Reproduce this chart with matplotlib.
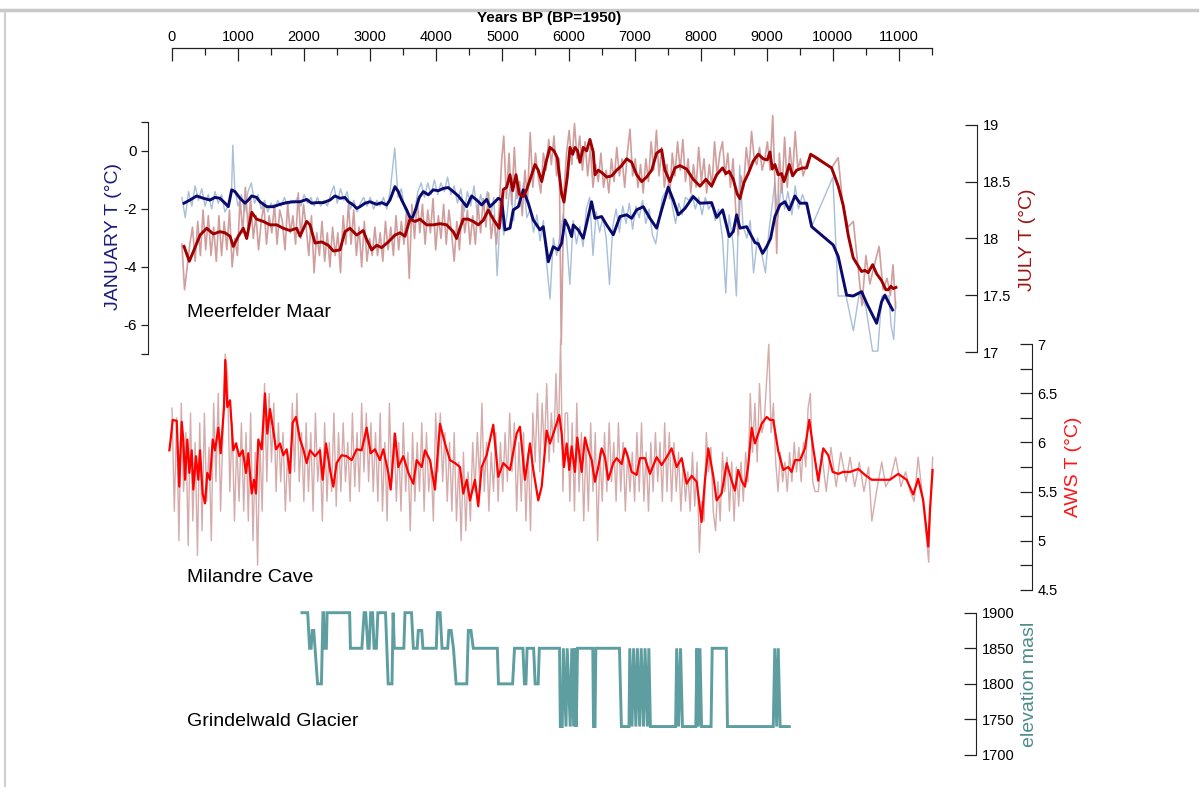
import numpy as np
import matplotlib
matplotlib.use("Agg")
import matplotlib.pyplot as plt
from matplotlib import font_manager
from matplotlib.ticker import FixedLocator, MultipleLocator, FormatStrFormatter
from matplotlib.lines import Line2D

plt.rcParams['font.family'] = ['Liberation Sans', 'DejaVu Sans']
plt.rcParams['axes.unicode_minus'] = False

# ---------------- Meerfelder Maar: January temperature ----------------
jan_smooth_years = [182, 272, 373, 474, 575, 651, 726, 802, 852, 903, 953, 1029, 1105, 1155, 1206,
                    1281, 1331, 1433, 1533, 1634, 1735, 1836, 1937, 2038, 2113, 2189, 2290, 2391,
                    2466, 2542, 2617, 2668, 2743, 2794, 2844, 2920, 2996, 3097, 3172, 3248, 3298,
                    3374, 3424, 3475, 3551, 3601, 3641, 3692, 3742, 3803, 3878, 3954, 4029, 4105,
                    4180, 4256, 4332, 4459, 4534, 4610, 4686, 4761, 4811, 4887, 4937, 4988, 5038,
                    5114, 5164, 5240, 5315, 5391, 5467, 5568, 5618, 5694, 5769, 5845, 5896, 5946,
                    5996, 6047, 6071, 6147, 6223, 6298, 6349, 6400, 6501, 6577, 6677, 6778, 6880,
                    6955, 7031, 7131, 7232, 7333, 7409, 7509, 7585, 7661, 7762, 7887, 7989, 8165,
                    8241, 8332, 8432, 8493, 8544, 8594, 8695, 8821, 8871, 8937, 8998, 9058, 9123,
                    9199, 9275, 9340, 9426, 9502, 9603, 9679, 10005, 10081, 10208, 10308, 10435,
                    10511, 10662, 10737, 10787, 10838, 10904]
jan_smooth = [-1.80, -1.69, -1.55, -1.63, -1.69, -1.60, -1.63, -1.80, -1.92, -1.34, -1.40, -1.63,
              -1.80, -1.69, -1.55, -1.60, -1.75, -1.92, -1.92, -1.84, -1.78, -1.75, -1.75, -1.67,
              -1.80, -1.78, -1.78, -1.69, -1.55, -1.63, -1.60, -1.75, -1.86, -1.98, -1.92, -1.80,
              -1.75, -1.84, -1.78, -1.86, -1.69, -1.23, -1.40, -1.69, -2.03, -2.29, -2.29, -1.98,
              -1.60, -1.40, -1.51, -1.34, -1.37, -1.29, -1.26, -1.40, -1.55, -1.92, -1.55, -1.69,
              -1.86, -1.67, -1.92, -1.75, -1.63, -1.69, -2.72, -2.66, -2.03, -1.92, -1.34, -1.80,
              -2.38, -2.72, -2.61, -3.82, -3.30, -3.41, -3.18, -2.38, -2.61, -2.95, -2.55, -2.72,
              -3.01, -2.26, -1.75, -2.32, -2.26, -2.55, -2.89, -2.26, -2.20, -2.32, -2.03, -1.92,
              -2.32, -2.66, -2.03, -1.25, -1.69, -2.20, -1.98, -1.57, -1.80, -1.78, -2.29, -2.03,
              -2.95, -2.78, -2.20, -2.66, -2.61, -3.16, -3.20, -3.53, -3.30, -3.01, -2.26, -1.86,
              -1.75, -2.03, -1.55, -1.80, -1.80, -2.61, -3.24, -3.64, -4.97, -5.00, -4.85, -5.25,
              -5.94, -5.20, -4.97, -5.20, -5.48]

jan_raw_years = [150, 200, 250, 300, 350, 400, 450, 500, 550, 600, 650, 700, 750, 800, 850, 900, 920,
                 950, 1000, 1050, 1100, 1150, 1200, 1250, 1300, 1350, 1400, 1450, 1500, 1550, 1600,
                 1650, 1700, 1750, 1800, 1850, 1900, 1950, 2000, 2050, 2100, 2150, 2200, 2250, 2300,
                 2350, 2400, 2450, 2500, 2550, 2600, 2650, 2700, 2750, 2800, 2850, 2900, 2950, 3000,
                 3050, 3100, 3150, 3200, 3250, 3300, 3370, 3420, 3470, 3520, 3570, 3620, 3670, 3720,
                 3770, 3820, 3870, 3920, 3970, 4020, 4070, 4120, 4170, 4220, 4270, 4320, 4370, 4420,
                 4470, 4520, 4570, 4620, 4670, 4720, 4770, 4820, 4870, 4920, 4970, 5020, 5070, 5120,
                 5170, 5220, 5270, 5320, 5370, 5420, 5470, 5520, 5570, 5620, 5670, 5720, 5770, 5820,
                 5870, 5920, 5970, 6020, 6070, 6120, 6170, 6220, 6270, 6320, 6370, 6420, 6470, 6520,
                 6570, 6620, 6670, 6720, 6770, 6820, 6870, 6920, 6970, 7020, 7070, 7120, 7170, 7220,
                 7270, 7320, 7370, 7420, 7470, 7520, 7570, 7620, 7670, 7720, 7770, 7820, 7870, 7920,
                 7970, 8020, 8070, 8120, 8170, 8220, 8270, 8330, 8380, 8430, 8490, 8540, 8590, 8640,
                 8700, 8750, 8800, 8860, 8920, 8980, 9030, 9080, 9120, 9170, 9220, 9270, 9320, 9380,
                 9430, 9480, 9540, 9600, 9680, 10000, 10080, 10200, 10310, 10400, 10500, 10600, 10680,
                 10740, 10800, 10850, 10880, 10920, 10950]
jan_raw = [-1.6, -2.3, -1.4, -1.9, -1.2, -1.7, -1.3, -1.9, -1.5, -2.0, -1.4, -1.8, -1.5, -2.1, -1.9,
           -1.5, 0.2, -1.3, -1.9, -1.5, -2.1, -1.4, -1.1, -1.8, -1.5, -2.0, -1.7, -2.1, -1.8, -2.0,
           -1.7, -1.9, -1.6, -1.9, -1.7, -1.8, -1.6, -1.9, -1.5, -1.8, -1.6, -1.9, -1.6, -1.9, -1.7,
           -1.9, -1.5, -1.2, -1.8, -1.3, -1.7, -1.4, -2.0, -1.7, -2.1, -1.8, -1.6, -1.9, -1.6, -2.0,
           -1.7, -1.9, -1.6, -2.0, -1.4, 0.1, -1.6, -1.3, -2.0, -2.2, -2.5, -2.1, -1.4, -1.1, -1.6,
           -1.1, -1.5, -1.0, -1.5, -1.1, -1.4, -0.9, -1.5, -1.2, -1.8, -1.3, -2.1, -1.4, -1.9, -1.2,
           -2.2, -1.5, -2.0, -1.4, -2.3, -1.6, -4.3, -2.0, -2.9, -2.2, -1.1, -2.4, -1.0, -1.9, -1.1,
           -2.3, -2.0, -2.8, -2.2, -3.1, -2.4, -3.9, -5.1, -3.0, -3.6, -2.9, -2.2, -3.0, -4.6, -2.4,
           -3.2, -2.6, -3.3, -2.0, -1.6, -3.6, -2.1, -2.8, -2.3, -3.0, -4.6, -2.6, -2.0, -2.8, -1.9,
           -2.5, -1.8, -2.7, -1.9, -2.3, -1.7, -2.5, -2.0, -2.9, -3.2, -2.4, -1.6, -1.4, -1.1, -1.9,
           -2.5, -1.8, -2.2, -1.6, -1.7, -1.5, -2.0, -1.6, -2.2, -1.6, -2.0, -1.8, -2.4, -2.0, -3.0,
           -4.9, -2.2, -3.2, -5.0, -0.5, -2.6, -3.0, -2.4, -4.2, -3.0, -3.5, -4.2, -2.8, -1.9, -1.1,
           -2.3, -1.1, -2.0, -1.4, -2.2, -1.2, -2.0, -1.5, -1.9, -2.6, -0.9, -5.0, -5.0, -6.2, -4.9,
           -5.4, -6.9, -6.9, -5.0, -5.0, -5.0, -6.0, -6.5, -5.2]

# ---------------- Meerfelder Maar: July temperature ----------------
jul_smooth_years = [182, 262, 348, 424, 525, 625, 726, 802, 878, 927, 1003, 1079, 1130, 1206, 1281,
                    1381, 1483, 1584, 1684, 1785, 1887, 1937, 2038, 2088, 2164, 2265, 2365, 2441,
                    2542, 2617, 2693, 2794, 2894, 2946, 3021, 3097, 3172, 3273, 3374, 3450, 3525,
                    3601, 3677, 3752, 3853, 3954, 4055, 4156, 4256, 4307, 4357, 4407, 4479, 4559,
                    4634, 4710, 4786, 4861, 4952, 5013, 5064, 5114, 5155, 5205, 5255, 5315, 5367,
                    5442, 5492, 5542, 5594, 5659, 5719, 5780, 5830, 5896, 5931, 5981, 6022, 6063,
                    6097, 6138, 6173, 6223, 6274, 6324, 6374, 6400, 6450, 6501, 6577, 6653, 6728,
                    6804, 6880, 6955, 7031, 7107, 7182, 7258, 7333, 7409, 7459, 7535, 7610, 7686,
                    7787, 7887, 7989, 8079, 8165, 8241, 8332, 8382, 8432, 8493, 8553, 8594, 8654,
                    8719, 8795, 8871, 8947, 9007, 9048, 9083, 9123, 9173, 9225, 9260, 9300, 9340,
                    9391, 9451, 9543, 9603, 9664, 9981, 10081, 10157, 10232, 10308, 10435, 10485,
                    10535, 10602, 10662, 10737, 10802, 10838, 10878, 10913, 10954]
jul_smooth = [17.93, 17.80, 17.92, 18.03, 18.09, 18.04, 18.06, 18.05, 18.02, 17.93, 18.02, 18.09,
              18.00, 18.23, 18.17, 18.15, 18.12, 18.12, 18.09, 18.07, 18.09, 18.02, 18.15, 18.12,
              17.96, 17.97, 17.94, 17.89, 17.90, 18.06, 18.09, 18.03, 18.07, 17.99, 17.90, 17.94,
              17.92, 17.97, 18.03, 18.05, 18.02, 18.17, 18.15, 18.17, 18.12, 18.12, 18.13, 18.12,
              18.06, 18.00, 18.09, 18.17, 18.17, 18.15, 18.12, 18.16, 18.25, 18.17, 18.09, 18.43,
              18.45, 18.56, 18.42, 18.56, 18.39, 18.37, 18.43, 18.56, 18.65, 18.60, 18.50, 18.67,
              18.80, 18.77, 18.71, 18.39, 18.32, 18.54, 18.80, 18.74, 18.80, 18.77, 18.67, 18.80,
              18.77, 18.87, 18.76, 18.56, 18.60, 18.58, 18.54, 18.55, 18.60, 18.64, 18.70, 18.67,
              18.56, 18.50, 18.54, 18.60, 18.75, 18.78, 18.60, 18.50, 18.62, 18.64, 18.61, 18.52,
              18.46, 18.52, 18.46, 18.56, 18.62, 18.57, 18.59, 18.52, 18.39, 18.35, 18.49, 18.57,
              18.68, 18.74, 18.70, 18.69, 18.76, 18.61, 18.65, 18.56, 18.57, 18.50, 18.57, 18.65,
              18.55, 18.60, 18.62, 18.62, 18.74, 18.62, 18.46, 18.29, 18.03, 17.83, 17.71, 17.72,
              17.70, 17.77, 17.69, 17.63, 17.55, 17.55, 17.58, 17.56, 17.57]

jul_raw_years = [150, 190, 230, 270, 310, 350, 390, 430, 470, 510, 550, 590, 630, 670, 710, 750,
                 790, 830, 870, 910, 950, 990, 1030, 1070, 1110, 1150, 1190, 1230, 1270, 1310,
                 1350, 1390, 1430, 1470, 1510, 1550, 1590, 1630, 1670, 1710, 1750, 1790, 1830,
                 1870, 1910, 1950, 1990, 2030, 2070, 2110, 2150, 2190, 2230, 2270, 2310, 2350,
                 2390, 2430, 2470, 2510, 2550, 2590, 2630, 2670, 2710, 2750, 2790, 2830, 2870,
                 2910, 2950, 2990, 3030, 3070, 3110, 3150, 3190, 3230, 3270, 3310, 3350, 3390,
                 3430, 3470, 3510, 3550, 3590, 3630, 3670, 3710, 3750, 3790, 3830, 3870, 3910,
                 3950, 3990, 4030, 4070, 4110, 4150, 4190, 4230, 4270, 4310, 4350, 4390, 4430,
                 4470, 4510, 4550, 4590, 4630, 4670, 4710, 4750, 4790, 4830, 4870, 4910, 4950,
                 4990, 5020, 5060, 5100, 5140, 5180, 5220, 5260, 5300, 5340, 5380, 5420, 5460,
                 5500, 5540, 5580, 5620, 5660, 5700, 5740, 5780, 5820, 5860, 5890, 5930, 5970,
                 6010, 6050, 6090, 6130, 6170, 6210, 6250, 6290, 6330, 6370, 6410, 6450, 6490,
                 6530, 6570, 6610, 6650, 6690, 6730, 6770, 6810, 6850, 6890, 6930, 6970, 7010,
                 7050, 7090, 7130, 7170, 7210, 7250, 7290, 7330, 7370, 7410, 7450, 7490, 7530,
                 7570, 7610, 7650, 7690, 7730, 7770, 7810, 7850, 7890, 7930, 7970, 8010, 8050,
                 8090, 8130, 8170, 8210, 8250, 8290, 8330, 8370, 8410, 8450, 8490, 8530, 8570,
                 8610, 8650, 8690, 8730, 8770, 8810, 8850, 8890, 8930, 8970, 9010, 9050, 9090,
                 9120, 9150, 9190, 9230, 9270, 9310, 9350, 9390, 9430, 9470, 9510, 9550, 9600,
                 9660, 9750, 9980, 10080, 10150, 10230, 10310, 10380, 10440, 10500, 10560, 10620,
                 10700, 10760, 10820, 10870, 10910, 10950]
jul_raw = [17.95, 17.55, 17.75, 17.95, 18.10, 17.80, 18.15, 17.85, 18.25, 17.90, 18.20, 17.85,
           18.10, 17.80, 18.20, 17.85, 18.15, 17.90, 18.25, 17.75, 18.00, 17.85, 18.35, 18.05,
           18.45, 18.10, 18.35, 18.00, 18.20, 17.90, 18.15, 18.30, 17.95, 18.20, 18.05, 18.30,
           17.95, 18.25, 18.15, 17.90, 18.30, 18.05, 18.20, 17.95, 18.40, 18.00, 18.30, 18.10,
           17.85, 18.20, 17.70, 18.05, 17.85, 18.15, 17.80, 18.05, 17.75, 18.10, 17.85, 18.05,
           17.70, 18.20, 17.95, 18.30, 17.95, 18.25, 17.85, 18.10, 17.75, 18.15, 17.80, 18.00,
           17.85, 18.10, 17.85, 18.05, 17.80, 18.15, 17.90, 18.10, 17.85, 18.20, 17.90, 18.15,
           17.95, 18.25, 17.65, 18.30, 18.00, 18.35, 18.05, 18.30, 17.95, 18.25, 18.05, 18.35,
           17.90, 18.20, 18.00, 18.30, 17.95, 18.25, 18.05, 17.80, 18.15, 17.90, 18.30, 18.05,
           18.25, 17.95, 18.20, 17.95, 18.30, 18.05, 18.35, 18.10, 18.40, 18.00, 18.20, 17.95,
           18.25, 18.70, 18.90, 18.35, 18.75, 18.30, 18.80, 18.35, 18.50, 18.20, 18.60, 18.35,
           18.93, 18.45, 18.75, 18.55, 18.40, 18.75, 18.60, 18.87, 18.65, 18.90, 18.55, 18.70,
           17.07, 18.40, 18.75, 18.95, 18.65, 19.01, 18.70, 18.90, 18.60, 18.85, 18.55, 18.80,
           18.45, 18.65, 18.50, 18.75, 18.45, 18.60, 18.40, 18.70, 18.50, 18.80, 18.55, 18.70,
           18.45, 18.75, 18.96, 18.55, 18.70, 18.45, 18.65, 18.40, 18.70, 18.50, 18.85, 18.60,
           18.95, 18.55, 18.80, 18.45, 18.65, 18.35, 18.75, 18.55, 18.85, 18.60, 18.87, 18.50,
           18.70, 18.40, 18.65, 18.45, 18.80, 18.50, 18.70, 18.40, 18.65, 18.45, 18.85, 18.55,
           18.75, 18.85, 18.55, 18.75, 18.45, 18.70, 18.25, 18.03, 18.55, 18.45, 18.80, 18.60,
           18.94, 18.70, 18.65, 18.80, 18.60, 18.70, 18.85, 18.60, 19.08, 18.55, 17.87, 18.75,
           18.40, 18.89, 18.45, 18.80, 18.55, 18.94, 18.60, 18.70, 18.55, 18.65, 18.74, 18.72,
           18.62, 18.71, 18.30, 18.10, 18.15, 17.75, 17.41, 17.85, 17.60, 17.75, 17.93, 17.55,
           17.65, 17.50, 17.77, 17.39]

# ---------------- Milandre Cave: AWS temperature ----------------
aws_smooth_years = [-40, -20, 10, 71, 110, 147, 171, 197, 232, 262, 298, 322, 363, 398, 424, 464,
                    499, 534, 575, 616, 651, 701, 737, 787, 806, 837, 878, 927, 968, 1018, 1070,
                    1120, 1154, 1206, 1241, 1271, 1306, 1357, 1407, 1442, 1483, 1524, 1574, 1634,
                    1684, 1735, 1785, 1826, 1876, 1937, 1987, 2038, 2088, 2164, 2239, 2280, 2330,
                    2391, 2441, 2491, 2567, 2643, 2719, 2794, 2870, 2946, 3006, 3071, 3147, 3198,
                    3273, 3309, 3374, 3424, 3500, 3576, 3651, 3702, 3778, 3828, 3904, 3979, 4055,
                    4130, 4206, 4282, 4357, 4407, 4459, 4509, 4584, 4634, 4686, 4761, 4861, 4937,
                    5013, 5114, 5215, 5265, 5341, 5417, 5467, 5542, 5594, 5669, 5719, 5795, 5860,
                    5896, 5931, 5972, 6011, 6047, 6097, 6132, 6199, 6249, 6298, 6350, 6400, 6450,
                    6501, 6551, 6601, 6677, 6728, 6804, 6854, 6904, 6955, 7031, 7081, 7157, 7232,
                    7333, 7409, 7485, 7560, 7636, 7712, 7787, 7863, 7939, 8014, 8064, 8115, 8190,
                    8241, 8317, 8393, 8468, 8518, 8568, 8619, 8670, 8720, 8771, 8821, 8871, 8922,
                    8998, 9048, 9098, 9174, 9250, 9326, 9376, 9426, 9502, 9578, 9643, 9703, 9779,
                    9855, 9930, 9997, 10081, 10157, 10258, 10384, 10485, 10587, 10686, 10863, 10989,
                    11116, 11216, 11291, 11367, 11443, 11468, 11509]
aws_smooth = [5.92, 6.03, 6.23, 6.22, 5.55, 6.21, 6.03, 5.62, 6.03, 5.69, 5.92, 5.52, 5.86, 5.62,
              5.92, 5.48, 5.38, 5.69, 5.62, 6.03, 5.92, 6.15, 5.89, 6.36, 6.84, 6.36, 6.43, 5.92,
              5.99, 5.86, 5.92, 5.69, 5.89, 5.48, 5.62, 5.48, 6.03, 5.93, 6.50, 6.09, 6.34, 6.16,
              5.93, 5.99, 5.87, 5.93, 5.69, 6.20, 6.26, 6.03, 5.93, 5.79, 5.92, 5.86, 5.92, 5.62,
              5.99, 5.72, 5.55, 5.79, 5.87, 5.86, 5.82, 5.93, 5.92, 6.15, 5.89, 5.93, 5.82, 5.93,
              5.69, 5.52, 6.09, 5.75, 5.86, 5.69, 5.58, 5.82, 5.75, 5.92, 5.82, 5.52, 6.19, 5.99,
              5.82, 5.79, 5.75, 5.48, 5.62, 5.41, 5.62, 5.35, 5.75, 5.87, 6.18, 5.65, 5.79, 5.72,
              6.09, 6.16, 5.62, 5.99, 5.72, 5.41, 5.55, 6.12, 5.99, 6.14, 6.28, 6.09, 5.75, 5.99,
              5.72, 5.96, 5.70, 6.05, 5.70, 6.05, 5.92, 5.82, 5.60, 5.75, 5.94, 5.85, 5.62, 5.79,
              5.84, 5.78, 5.94, 5.84, 5.70, 5.67, 5.84, 5.84, 5.68, 5.85, 5.77, 5.85, 5.94, 5.75,
              5.84, 5.58, 5.66, 5.60, 5.19, 5.61, 5.94, 5.66, 5.41, 5.48, 5.79, 5.61, 5.51, 5.72,
              5.61, 5.55, 5.77, 6.15, 5.99, 6.09, 6.19, 6.26, 6.23, 6.23, 5.91, 5.72, 5.75, 5.70,
              5.82, 5.82, 5.94, 6.23, 5.94, 5.61, 5.94, 5.87, 5.70, 5.68, 5.70, 5.70, 5.73, 5.67,
              5.62, 5.62, 5.62, 5.68, 5.62, 5.47, 5.63, 5.41, 4.94, 5.30, 5.72]

# annually-resolved values on a 35-year grid up to 9730 BP, then the sparse early part
aws_raw_grid = np.arange(0, 9765, 35)
aws_raw_grid_values = [
    6.35, 5.3, 6.25, 5.0, 6.4, 5.5, 6.1, 4.95, 6.3, 5.2, 6.0, 4.85, 6.2, 5.1, 6.3, 5.4, 5.95, 5.0,
    6.4, 5.6, 6.5, 5.3, 6.1, 6.9, 6.7, 5.5, 6.2, 5.2, 6.0,
    5.4, 6.2, 5.3, 6.1, 5.2, 6.3, 5.0, 5.9, 4.75, 6.0, 5.3, 6.6, 5.6, 6.5, 5.8, 6.4, 5.5, 6.2,
    5.6, 6.1, 5.3, 5.9, 5.4, 6.4, 5.7, 6.5, 5.6, 6.1, 5.4,
    6.2, 5.5, 6.1, 5.3, 6.3, 5.6, 5.95, 5.2, 6.2, 5.4, 6.0, 5.5, 6.3, 5.35, 6.1, 5.5, 6.2, 5.6,
    6.0, 5.4, 6.3, 5.55, 6.1, 5.5, 6.4, 5.7, 6.3, 5.6,
    6.2, 5.5, 6.1, 5.4, 6.3, 5.3, 6.0, 5.2, 6.4, 5.6, 6.1, 5.4, 6.0, 5.3, 6.2, 5.5, 5.9, 5.1,
    6.1, 5.4, 6.0, 5.5, 6.2, 5.3, 6.1, 5.5, 5.8, 5.2, 6.3,
    5.7, 6.3, 5.6, 6.1, 5.4, 6.0, 5.3, 6.1, 5.2, 5.8, 5.0, 5.9, 5.1, 5.7, 5.2, 6.0, 5.5, 6.1,
    5.6, 6.4, 5.5, 6.0, 5.3, 5.9, 5.5, 6.1, 5.4, 6.0,
    5.5, 6.1, 5.6, 6.3, 5.7, 6.2, 5.3, 6.0, 5.4, 6.1, 5.2, 5.9, 5.1, 6.3, 5.8, 6.5, 5.7, 6.4,
    5.9, 6.6, 5.8, 6.3, 5.9, 6.7, 6.0, 7.05, 5.5, 6.3,
    6.3, 5.4, 6.2, 5.3, 6.4, 5.5, 6.1, 5.2, 6.0, 5.3, 6.2, 5.5, 6.1, 5.0, 5.9, 5.4, 6.1, 5.5,
    6.2, 5.6, 6.0, 5.4, 6.2, 5.5, 6.0, 5.3, 5.9, 5.5,
    5.9, 5.4, 6.1, 5.5, 6.2, 5.4, 5.9, 5.3, 6.0, 5.5, 6.1, 5.6, 6.0, 5.4, 6.2, 5.5, 6.1, 5.4,
    6.0, 5.5, 5.9, 5.3, 5.8, 5.4, 5.7, 5.3, 5.9, 5.35, 5.8,
    4.88, 5.4, 5.2, 6.1, 5.7, 5.95, 5.3, 5.1, 5.6, 5.2, 5.9, 5.5, 5.85, 5.3, 5.8, 5.2, 5.75,
    5.35, 5.8, 5.4, 5.9, 5.6, 6.5, 5.9, 6.4, 5.8, 6.6, 6.1,
    6.2, 6.6, 7.0, 6.1, 6.4, 5.8, 5.5, 5.9, 5.6, 5.8, 5.5, 5.9, 5.6, 6.0, 5.7, 5.95, 5.6, 6.0,
    5.75, 6.35, 6.5, 5.6, 5.5]
aws_raw_tail_years = [9780, 9830, 9900, 9970, 10050, 10120, 10200, 10260, 10330, 10400, 10470,
                      10540, 10590, 10660, 10740, 10800, 10880, 10950, 11030, 11100, 11170, 11230,
                      11290, 11350, 11420, 11450, 11480, 11510]
aws_raw_tail = [5.5, 5.9, 5.5, 5.95, 5.55, 5.9, 5.6, 5.85, 5.55, 5.8, 5.5, 5.75, 5.2, 5.5, 5.8,
                5.55, 5.65, 5.85, 5.55, 5.7, 5.5, 5.4, 5.85, 5.5, 5.0, 4.78, 5.4, 5.85]

# ---------------- Grindelwald Glacier: front elevation ----------------
glacier_years = [1966, 2053, 2082, 2105, 2122, 2145, 2203, 2261, 2284, 2295, 2307, 2336, 2347, 2688,
                 2700, 2873, 2907, 2931, 2965, 2983, 3006, 3035, 3058, 3092, 3115, 3231, 3271, 3329,
                 3346, 3364, 3508, 3525, 3624, 3652, 3710, 3727, 3779, 3797, 3999, 4016, 4057, 4086,
                 4172, 4189, 4224, 4259, 4299, 4461, 4484, 4524, 4559, 4923, 4940, 5154, 5183, 5310,
                 5333, 5356, 5373, 5472, 5495, 5541, 5558, 5864, 5876, 5905, 5922, 5962, 5980, 6026,
                 6049, 6078, 6095, 6118, 6136, 6367, 6378, 6401, 6413, 6771, 6800, 6915, 6927, 6961,
                 6985, 7019, 7042, 7077, 7100, 7135, 7158, 7193, 7216, 7239, 7620, 7637, 7666, 7695,
                 7724, 7926, 7943, 7966, 7989, 8013, 8157, 8174, 8388, 8405, 9098, 9121, 9150, 9173,
                 9202, 9341]
glacier_elev = [1900, 1900, 1850, 1850, 1875, 1875, 1800, 1800, 1900, 1900, 1850, 1850, 1900, 1900,
                1850, 1850, 1900, 1900, 1850, 1850, 1900, 1900, 1850, 1850, 1900, 1900, 1800, 1800,
                1900, 1850, 1850, 1900, 1900, 1850, 1850, 1875, 1875, 1850, 1850, 1900, 1900, 1850,
                1850, 1875, 1875, 1850, 1800, 1800, 1875, 1875, 1850, 1850, 1800, 1800, 1850, 1850,
                1800, 1800, 1850, 1850, 1800, 1800, 1850, 1850, 1740, 1740, 1850, 1740, 1850, 1740,
                1850, 1740, 1850, 1740, 1850, 1850, 1740, 1740, 1850, 1850, 1740, 1740, 1850, 1740,
                1850, 1740, 1850, 1740, 1850, 1740, 1850, 1740, 1850, 1740, 1740, 1850, 1740, 1850,
                1740, 1740, 1850, 1740, 1850, 1740, 1740, 1850, 1850, 1740, 1740, 1850, 1740, 1850,
                1740, 1740]

year_ticks = list(range(0, 11001, 1000))
jul_ticks = [17, 17.5, 18, 18.5, 19]
aws_ticks = [4.5, 5, 5.5, 6, 6.5, 7]
elev_ticks = [1700, 1750, 1800, 1850, 1900]

# ---------------- layout helpers ----------------
W, H = 1204, 787
X0, X1 = 172, 932
YEAR_MAX = 11500

_names = {f.name for f in font_manager.fontManager.ttflist}
NARROW = 'Liberation Sans Narrow' if 'Liberation Sans Narrow' in _names else 'Liberation Sans'

fig = plt.figure(figsize=(W / 100, H / 100), dpi=100)
fig.patch.set_facecolor('white')


def rect(top, bottom):
    return [X0 / W, 1 - bottom / H, (X1 - X0) / W, (bottom - top) / H]


def frac_x(px):
    return (px - X0) / (X1 - X0)


def bare(ax):
    ax.set_xlim(0, YEAR_MAX)
    ax.patch.set_visible(False)
    for s in ax.spines.values():
        s.set_visible(False)
    ax.set_xticks([])
    ax.set_yticks([])


def ftext(px, py, s, **kw):
    fig.text(px / W, 1 - py / H, s, **kw)


AXC = '#222222'

# ---------------- top year axis ----------------
ax_top = fig.add_axes(rect(48, 60))
bare(ax_top)
ax_top.spines['top'].set_visible(True)
ax_top.spines['top'].set_color(AXC)
ax_top.spines['top'].set_linewidth(0.9)
ax_top.xaxis.set_ticks_position('top')
ax_top.set_xticks(year_ticks)
ax_top.set_xticklabels([str(t) for t in year_ticks])
ax_top.xaxis.set_minor_locator(FixedLocator(np.arange(500, 11501, 1000)))
ax_top.tick_params(axis='x', which='major', direction='in', length=9, width=0.9,
                   colors=AXC, labelsize=10.5, pad=3)
ax_top.tick_params(axis='x', which='minor', direction='in', length=5, width=0.9, colors=AXC)
for lab in ax_top.get_xticklabels():
    lab.set_family([NARROW, 'Liberation Sans'])
    lab.set_color('black')
ftext(549, 18, 'Years BP (BP=1950)', ha='center', va='center', fontsize=11,
      fontweight='bold', family=[NARROW, 'Liberation Sans'])

# ---------------- Meerfelder Maar ----------------
ax_jan = fig.add_axes(rect(122, 354))
bare(ax_jan)
ax_jan.set_ylim(-7, 1)
ax_jan.spines['left'].set_visible(True)
ax_jan.spines['left'].set_position(('axes', frac_x(148)))
ax_jan.spines['left'].set_bounds(-7, 1)
ax_jan.spines['left'].set_color(AXC)
ax_jan.set_yticks([1, 0, -2, -4, -6, -7])
ax_jan.set_yticklabels(['', '0', '-2', '-4', '-6', ''])
ax_jan.tick_params(axis='y', direction='out', length=5, width=0.9, colors=AXC,
                   labelcolor='black', labelsize=11, pad=3)

ax_jul = fig.add_axes(rect(122, 354))
bare(ax_jul)
ax_jul.set_ylim(16.9853, 19.0234)
ax_jul.spines['right'].set_visible(True)
ax_jul.spines['right'].set_position(('axes', frac_x(977)))
ax_jul.spines['right'].set_bounds(17, 19)
ax_jul.spines['right'].set_color(AXC)
ax_jul.yaxis.set_ticks_position('right')
ax_jul.set_yticks(jul_ticks)
ax_jul.yaxis.set_major_formatter(FormatStrFormatter('%g'))
ax_jul.tick_params(axis='y', direction='in', length=8.5, width=0.9, colors=AXC,
                   labelcolor='black', labelsize=10.5, pad=4)

ax_jan.plot(jan_raw_years, jan_raw, color='#a7bfd8', lw=1.0, clip_on=False, zorder=1)
ax_jan.plot(jul_raw_years, jul_raw, color='#cc9494', lw=1.2, alpha=0.9, clip_on=False,
            zorder=1.5, transform=ax_jul.transData)
ax_jan.plot(jan_smooth_years, jan_smooth, color='#0a0a6e', lw=2.1, clip_on=False, zorder=2)
ax_jan.plot(jul_smooth_years, jul_smooth, color='#a00000', lw=2.1, clip_on=False, zorder=3,
            transform=ax_jul.transData)
ax_jan.set_xlim(0, YEAR_MAX)
ax_jan.set_ylim(-7, 1)

ftext(113, 237, 'JANUARY T (°C)', rotation=90, ha='center', va='center', fontsize=14,
      color='#1c1c7e')
ftext(1028, 240, 'JULY T (°C)', rotation=90, ha='center', va='center', fontsize=14,
      color='#9e1414')
ftext(187, 312, 'Meerfelder Maar', ha='left', va='center', fontsize=14)

# ---------------- Milandre Cave ----------------
ax_aws = fig.add_axes(rect(344.3, 589.7))
bare(ax_aws)
ax_aws.set_ylim(4.5, 7)
ax_aws.spines['right'].set_visible(True)
ax_aws.spines['right'].set_position(('axes', frac_x(1032)))
ax_aws.spines['right'].set_bounds(4.5, 7)
ax_aws.spines['right'].set_color(AXC)
ax_aws.yaxis.set_ticks_position('right')
ax_aws.set_yticks(aws_ticks)
ax_aws.yaxis.set_minor_locator(MultipleLocator(0.25))
ax_aws.yaxis.set_major_formatter(FormatStrFormatter('%g'))
ax_aws.tick_params(axis='y', which='both', direction='in', length=8.5, width=0.9, colors=AXC,
                   labelcolor='black', labelsize=10.5, pad=4)

aws_raw_years = np.concatenate([aws_raw_grid, aws_raw_tail_years])
aws_raw = np.concatenate([aws_raw_grid_values, aws_raw_tail])
ax_aws.plot(aws_raw_years, aws_raw, color='#d5abab', lw=1.0, clip_on=False, zorder=1)
ax_aws.plot(aws_smooth_years, aws_smooth, color='#ff0000', lw=1.6, clip_on=False, zorder=2)
ax_aws.set_xlim(0, YEAR_MAX)
ax_aws.set_ylim(4.5, 7)

ftext(1073, 467, 'AWS T (°C)', rotation=90, ha='center', va='center', fontsize=14,
      color='#ff1414')
ftext(187, 577, 'Milandre Cave', ha='left', va='center', fontsize=14)

# ---------------- Grindelwald Glacier ----------------
ax_elev = fig.add_axes(rect(612.7, 755))
bare(ax_elev)
ax_elev.set_ylim(1700, 1900)
ax_elev.spines['right'].set_visible(True)
ax_elev.spines['right'].set_position(('axes', frac_x(976)))
ax_elev.spines['right'].set_bounds(1700, 1900)
ax_elev.spines['right'].set_color(AXC)
ax_elev.yaxis.set_ticks_position('right')
ax_elev.set_yticks(elev_ticks)
ax_elev.tick_params(axis='y', direction='in', length=9, width=0.9, colors=AXC,
                    labelcolor='black', labelsize=10.5, pad=4)
ax_elev.plot(glacier_years, glacier_elev, color='#5f9ea0', lw=2.1, clip_on=False,
             solid_joinstyle='miter')
ax_elev.set_xlim(0, YEAR_MAX)
ax_elev.set_ylim(1700, 1900)

ftext(1030, 684, 'elevation masl', rotation=90, ha='center', va='center', fontsize=14,
      color='#4d8c8c')
ftext(187, 722, 'Grindelwald Glacier', ha='left', va='center', fontsize=14)

# ---------------- page frame ----------------
fig.add_artist(Line2D([0, 1197 / W], [1 - 10 / H, 1 - 10 / H], color='#c8c8c8', lw=2.5))
fig.add_artist(Line2D([5 / W, 5 / W], [0, 1 - 10 / H], color='#cfcfcf', lw=1.5))

fig.savefig('out.png', dpi=100, facecolor='white')
